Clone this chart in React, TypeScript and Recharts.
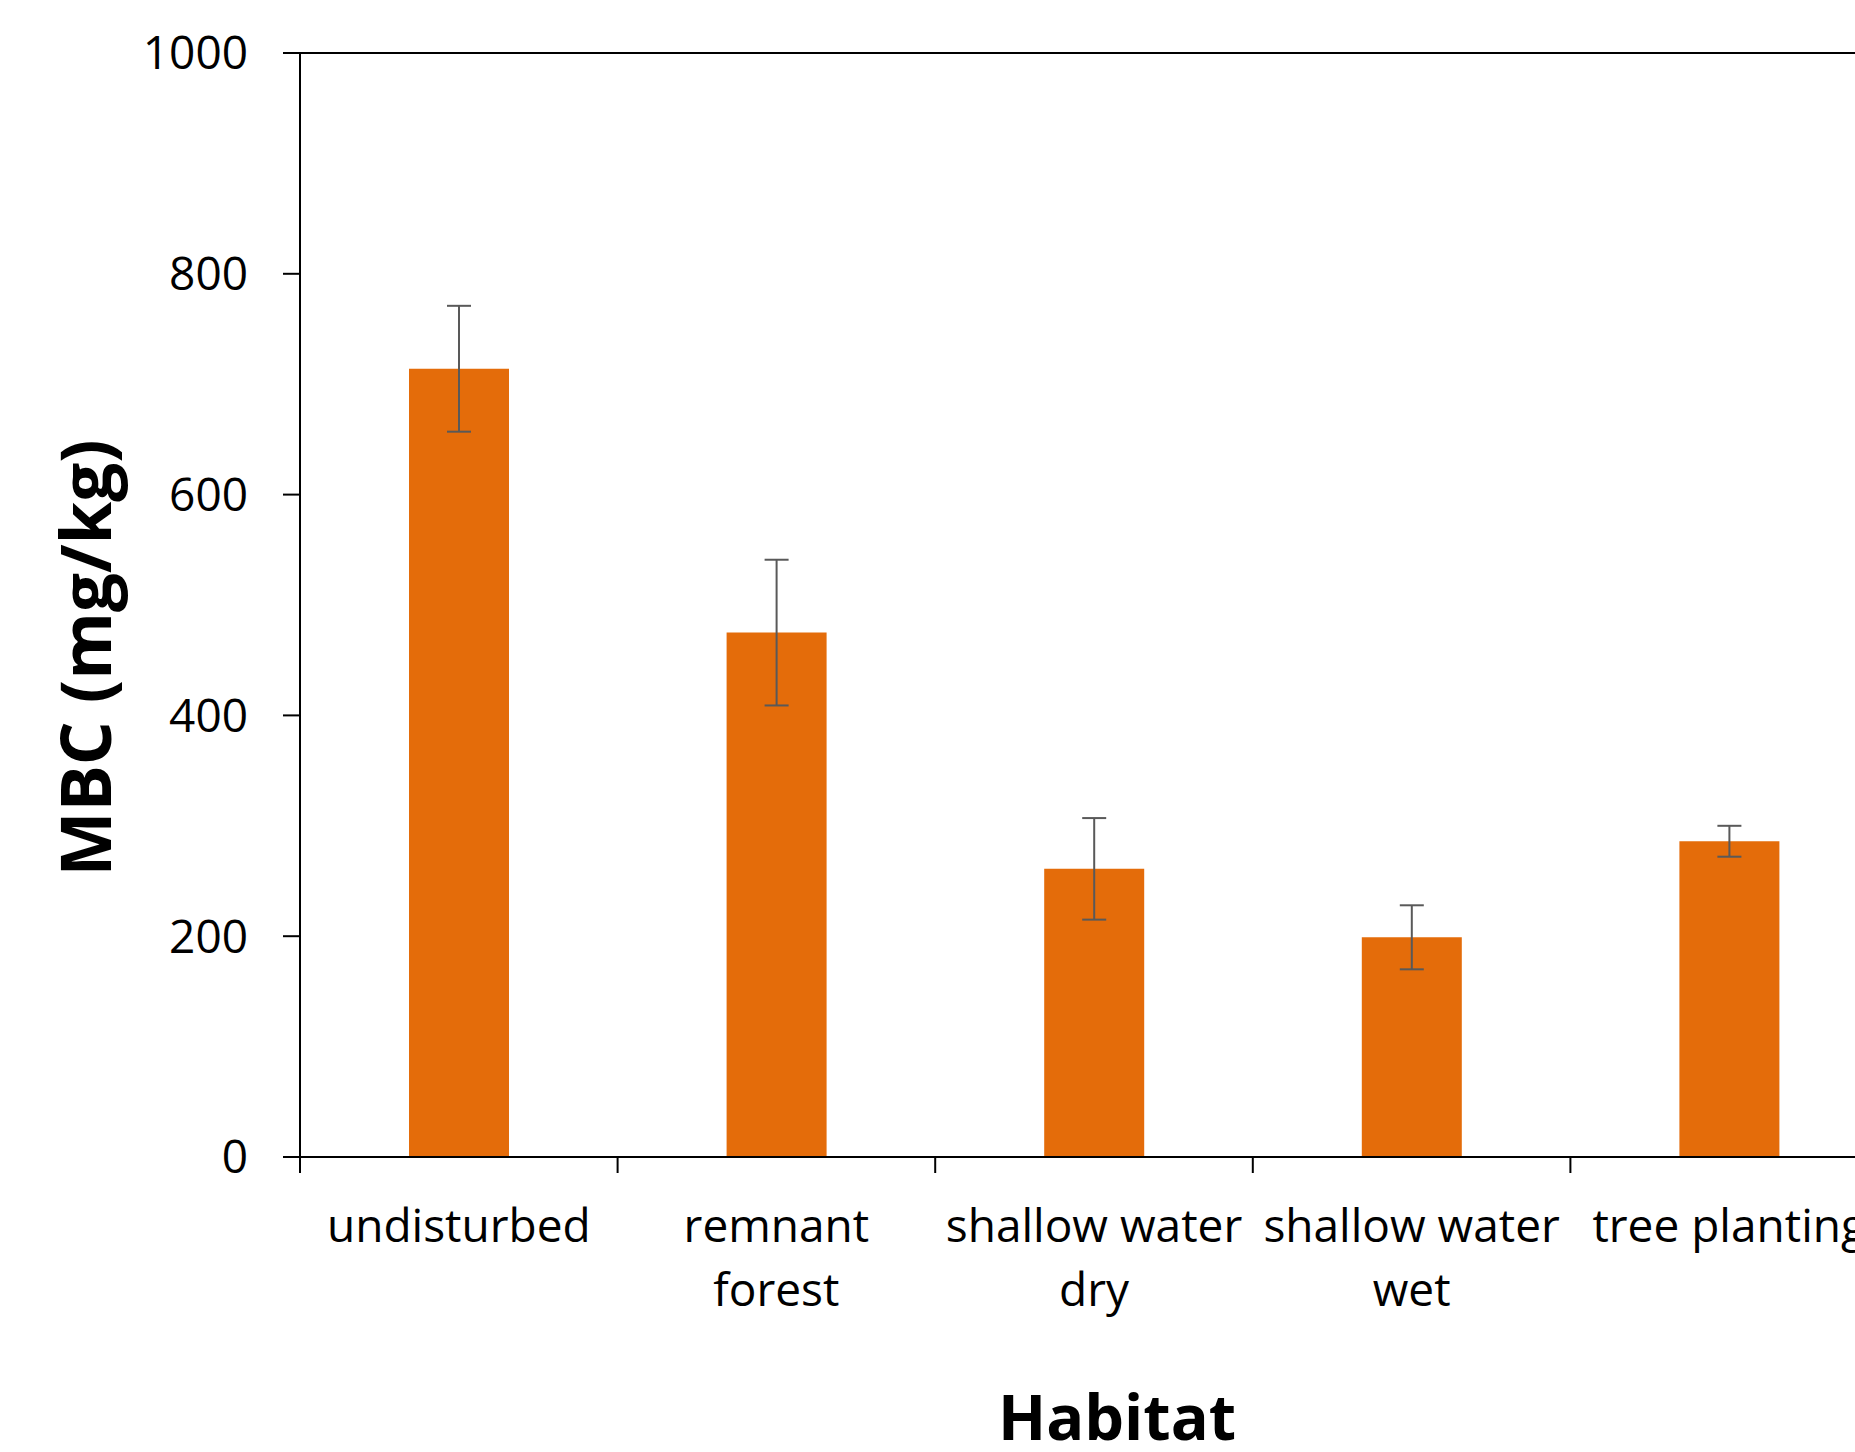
import { BarChart, Bar, XAxis, YAxis, ErrorBar, ReferenceLine, Label } from 'recharts';

const habitats = ['undisturbed', 'remnant\nforest', 'shallow water\ndry', 'shallow water\nwet', 'tree planting'];
const mbcMeans = [714, 475, 261, 199, 286];
const mbcErrors = [57, 66, 46, 29, 14];
const yTicks = [0, 200, 400, 600, 800, 1000];

const data = habitats.map((habitat, i) => ({
  habitat,
  mbc: mbcMeans[i],
  err: mbcErrors[i],
}));

const FONT = '"Open Sans", sans-serif';
const CHART_W = 1888;
const Y_AXIS_W = 300;
// category band width, used to put x tick marks on the band edges (Excel style)
const BAND = (CHART_W - Y_AXIS_W) / habitats.length;
const TICK_LEN = 16;
const TICK_GAP = 36;

interface TickProps {
  x?: number;
  y?: number;
  payload?: { value: string };
}

function HabitatTick({ x = 0, y = 0, payload }: TickProps) {
  const lines = String(payload?.value ?? '').split('\n');
  const axisY = y - TICK_LEN - TICK_GAP;
  return (
    <g>
      <line x1={x - BAND / 2} x2={x - BAND / 2} y1={axisY} y2={axisY + TICK_LEN} stroke="#000" strokeWidth={2} />
      <text x={x} y={y} textAnchor="middle" fontSize={46} fontFamily={FONT} fill="#000">
        {lines.map((line, i) => (
          <tspan key={i} x={x} dy={i === 0 ? 33 : 64}>
            {line}
          </tspan>
        ))}
      </text>
    </g>
  );
}

export default function App() {
  return (
    <div style={{ position: 'absolute', left: 0, top: 0, width: 1855, height: 1452, overflow: 'hidden', background: '#fff' }}>
      <BarChart width={CHART_W} height={1452} data={data} margin={{ top: 53, right: 0, bottom: 0, left: 0 }}>
        <XAxis
          dataKey="habitat"
          height={295}
          interval={0}
          tickSize={0}
          tickMargin={TICK_LEN + TICK_GAP}
          axisLine={{ stroke: '#000', strokeWidth: 2 }}
          tickLine={false}
          tick={<HabitatTick />}
        >
          <Label
            content={() => (
              <text x={1117} y={1440} textAnchor="middle" fontSize={63} fontWeight="bold" fontFamily={FONT} fill="#000">
                Habitat
              </text>
            )}
          />
        </XAxis>
        <YAxis
          width={Y_AXIS_W}
          domain={[0, 1000]}
          ticks={yTicks}
          interval={0}
          tickSize={17}
          tickMargin={35}
          axisLine={{ stroke: '#000', strokeWidth: 2 }}
          tickLine={{ stroke: '#000', strokeWidth: 2 }}
          tick={{ fontSize: 46, fill: '#000', fontFamily: FONT }}
        >
          <Label
            content={() => (
              <text
                x={111}
                y={658}
                transform="rotate(-90, 111, 658)"
                textAnchor="middle"
                fontSize={69}
                fontWeight="bold"
                fontFamily={FONT}
                fill="#000"
              >
                MBC (mg/kg)
              </text>
            )}
          />
        </YAxis>
        <ReferenceLine y={1000} stroke="#000" strokeWidth={2} />
        <Bar dataKey="mbc" fill="#E46C0A" barSize={100} isAnimationActive={false}>
          <ErrorBar dataKey="err" width={12} stroke="#595959" strokeWidth={2} direction="y" />
        </Bar>
      </BarChart>
    </div>
  );
}
